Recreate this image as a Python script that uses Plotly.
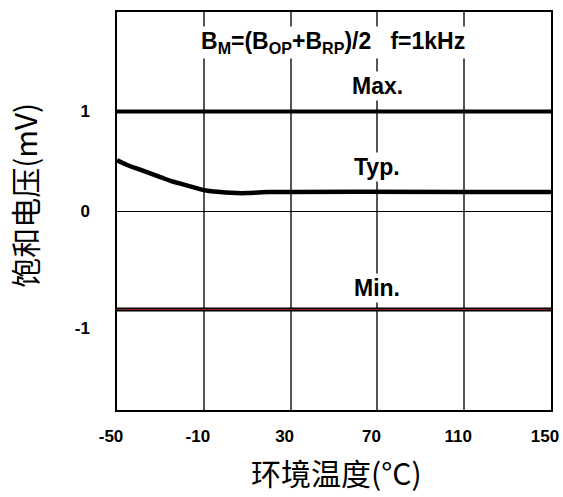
import plotly.graph_objects as go

temp = [-50, 150]
max_vals = [1.0, 1.0]
min_vals = [-0.99, -0.99]
typ_x = [-50, -45, -40, -35, -30, -25, -20, -15, -10, -5, 0, 5, 10, 20, 150]
typ_y = [0.51, 0.46, 0.42, 0.38, 0.34, 0.30, 0.27, 0.24, 0.21, 0.195, 0.185, 0.18, 0.18, 0.19, 0.19]

x_ticks = [-50, -10, 30, 70, 110, 150]
y_tickvals = [1, 0, -1.18]
y_ticktext = ["1", "0", "-1"]

fig = go.Figure()
fig.add_trace(go.Scatter(x=temp, y=max_vals, mode="lines",
                         line=dict(color="black", width=4), showlegend=False))
fig.add_trace(go.Scatter(x=typ_x, y=typ_y, mode="lines",
                         line=dict(color="black", width=4.5, shape="spline"), showlegend=False))
fig.add_trace(go.Scatter(x=temp, y=min_vals, mode="lines",
                         line=dict(color="black", width=4), showlegend=False))
fig.add_trace(go.Scatter(x=temp, y=min_vals, mode="lines",
                         line=dict(color="#8b2020", width=1.2), showlegend=False))

font_b = dict(family="Arial, Liberation Sans, sans-serif", size=23, color="black")

fig.add_annotation(x=70, y=1.69, text="<b>B<sub>M</sub>=(B<sub>OP</sub>+B<sub>RP</sub>)/2   f=1kHz</b>",
                   showarrow=False, font=font_b, bgcolor="white", xanchor="center", yanchor="middle",
                   xshift=-44, borderpad=1)
fig.add_annotation(x=70, y=1.26, text="<b>Max.</b>", showarrow=False, font=font_b,
                   bgcolor="white", borderpad=1)
fig.add_annotation(x=70, y=0.44, text="<b>Typ.</b>", showarrow=False, font=font_b,
                   bgcolor="white", borderpad=1)
fig.add_annotation(x=70, y=-0.77, text="<b>Min.</b>", showarrow=False, font=font_b,
                   bgcolor="white", borderpad=1)

title_font = dict(size=30, family="Noto Sans CJK SC, sans-serif", color="black")
fig.add_annotation(xref="paper", yref="paper", x=0.505, y=-0.155, text="环境温度(°C)",
                   showarrow=False, font=title_font, xanchor="center", yanchor="middle")
fig.add_annotation(xref="paper", yref="paper", x=-0.215, y=0.54, text="饱和电压(mV)",
                   showarrow=False, font=title_font, textangle=-90,
                   xanchor="center", yanchor="middle")

fig.update_layout(
    width=563, height=497,
    margin=dict(l=117, r=12, t=12, b=87, autoexpand=False),
    paper_bgcolor="white", plot_bgcolor="white",
    font=dict(family="Arial, Liberation Sans, sans-serif", color="black"),
    xaxis=dict(
        range=[-50, 150], tickvals=x_ticks, ticktext=[str(v) for v in x_ticks],
        showgrid=True, gridcolor="#555555", gridwidth=1.5,
        showline=True, linecolor="black", linewidth=1.5, mirror=True,
        ticks="", zeroline=False, automargin=False,
        tickfont=dict(size=17, family="Arial, Liberation Sans, sans-serif", weight="bold"),
        ticklabelstandoff=10, ticklabelshift=-6, ticklabeloverflow="allow",
    ),
    yaxis=dict(
        range=[-2, 2], tickvals=y_tickvals, ticktext=y_ticktext,
        showgrid=False, zeroline=True, zerolinecolor="black", zerolinewidth=1,
        showline=True, linecolor="black", linewidth=1.5, mirror=True,
        ticks="", automargin=False,
        tickfont=dict(size=17, family="Arial, Liberation Sans, sans-serif", weight="bold"),
        ticklabelstandoff=22,
    ),
)

fig.write_html("out.html")
